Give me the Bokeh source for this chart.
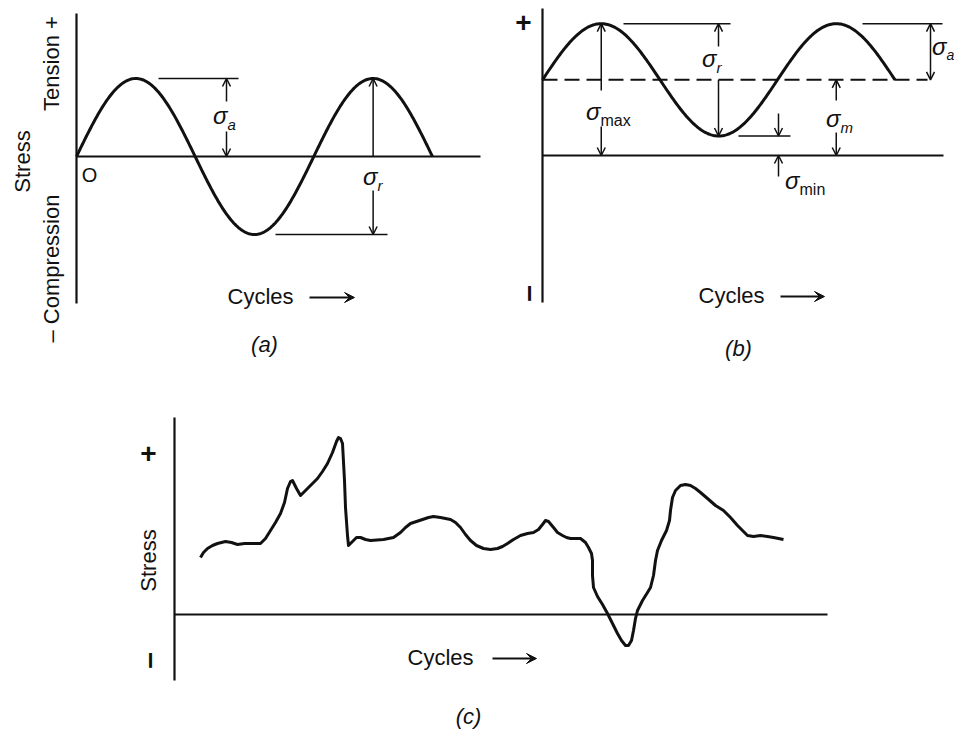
import math
import numpy as np
from bokeh.plotting import figure
from bokeh.models import Range1d, Label, Arrow, OpenHead, VeeHead
from bokeh.layouts import column, row
from bokeh.embed import file_html
from bokeh.resources import INLINE

# ---------------- data ----------------
# (a) completely reversed cycle: mean 0, amplitude sigma_a
A_MEAN = 0.0
A_AMPLITUDE = 1.0
A_CYCLES = 1.5
# (b) repeated stress cycle with tensile mean stress
B_MEAN = 0.97
B_AMPLITUDE = 0.72
B_CYCLES = 1.5
# (c) irregular / random stress cycle (cycles, stress)
C_CYCLES = [2.6, 2.9, 3.3, 3.8, 4.3, 5.1, 5.7, 6.3, 7.0, 7.6,
            8.6, 9.1, 9.6, 10.1, 10.6, 11.0, 11.3, 11.6, 11.8, 12.2,
            12.6, 13.1, 13.6, 14.3, 14.8, 15.3, 15.8, 16.2, 16.4, 16.6,
            16.8, 17.0, 17.1, 17.3, 17.4, 17.8, 18.2, 18.6, 19.1, 19.6,
            20.9, 21.9, 22.6, 23.1, 23.6, 24.2, 24.8, 25.4, 25.9, 26.6,
            27.6, 28.1, 28.6, 29.1, 29.6, 30.2, 30.9, 31.6, 32.3, 32.8,
            33.3, 33.9, 34.6, 35.3, 35.9, 36.4, 36.8, 37.1, 37.4, 37.9,
            38.3, 38.8, 39.2, 39.6, 40.6, 41.1, 41.4, 41.7, 41.8, 41.8,
            41.9, 42.3, 42.8, 43.3, 43.8, 44.3, 44.7, 45.1, 45.4, 45.7,
            45.9, 46.1, 46.3, 46.8, 47.3, 47.6, 47.9, 48.1, 48.3, 48.7,
            49.2, 49.5, 49.6, 49.8, 50.1, 50.6, 51.1, 51.6, 52.1, 52.6,
            53.3, 54.1, 54.9, 55.6, 56.3, 56.8, 57.3, 57.9, 58.6, 59.3,
            59.9, 60.4, 60.9]
C_STRESS = [5.7, 6.2, 6.6, 6.9, 7.1, 7.3, 7.2, 7.0, 7.1, 7.1,
            7.1, 7.6, 8.4, 9.2, 10.1, 11.2, 12.6, 13.3, 13.4, 12.6,
            11.9, 12.4, 12.9, 13.6, 14.3, 15.1, 16.2, 17.3, 17.7, 17.6,
            17.1, 13.4, 10.7, 7.9, 6.9, 7.3, 7.7, 7.7, 7.5, 7.4,
            7.5, 7.7, 8.2, 8.7, 9.1, 9.3, 9.5, 9.7, 9.8, 9.7,
            9.5, 9.2, 8.7, 8.0, 7.4, 6.9, 6.6, 6.5, 6.6, 6.8,
            7.1, 7.5, 7.9, 8.1, 8.2, 8.5, 9.0, 9.4, 9.3, 8.7,
            8.2, 7.9, 7.7, 7.6, 7.6, 7.2, 6.7, 6.1, 5.4, 3.9,
            2.7, 1.8, 1.0, 0.1, -0.9, -1.9, -2.6, -3.1, -3.1, -2.6,
            -1.6, -0.4, 0.4, 1.4, 2.2, 2.7, 3.9, 5.4, 6.4, 7.4,
            8.4, 9.4, 10.4, 11.7, 12.4, 12.9, 13.0, 12.9, 12.6, 12.2,
            11.6, 10.9, 10.4, 9.7, 8.9, 8.4, 7.9, 7.8, 7.9, 7.8,
            7.7, 7.6, 7.5]

FONT = "Liberation Sans"
INK = "#111111"


def make_fig(w, h, xr, yr):
    p = figure(width=w, height=h, x_range=Range1d(*xr), y_range=Range1d(*yr),
               output_backend="svg", toolbar_location=None, min_border=0,
               x_axis_location=None, y_axis_location=None)
    p.grid.visible = False
    p.outline_line_color = None
    p.background_fill_color = "white"
    return p


def label(p, x, y, text, size=22, angle=0.0, style="normal", align="center",
          baseline="middle"):
    p.add_layout(Label(x=x, y=y, text=text, text_font_size=f"{size}px", angle=angle,
                       text_font_style=style, text_align=align, text_baseline=baseline,
                       text_font=FONT, text_color=INK))


def arrow(p, x0, y0, x1, y1, lw=1.5, size=8):
    p.add_layout(Arrow(end=OpenHead(size=size, line_width=lw, line_color=INK),
                       x_start=x0, y_start=y0, x_end=x1, y_end=y1,
                       line_width=lw, line_color=INK))


def dbl_arrow(p, x0, y0, x1, y1, lw=1.5, size=8):
    p.add_layout(Arrow(start=OpenHead(size=size, line_width=lw, line_color=INK),
                       end=OpenHead(size=size, line_width=lw, line_color=INK),
                       x_start=x0, y_start=y0, x_end=x1, y_end=y1,
                       line_width=lw, line_color=INK))


def cycles_arrow(p, x0, x1, y):
    p.add_layout(Arrow(end=VeeHead(size=10, fill_color=INK, line_color=INK, line_width=1),
                       x_start=x0, y_start=y, x_end=x1, y_end=y,
                       line_width=2, line_color=INK))


def sigma(p, x, y, sub, sub_style="italic", sub_size=15):
    label(p, x, y, "σ", size=24, style="italic", align="right")
    label(p, x, y, sub, size=sub_size, style=sub_style, align="left", baseline="top")


def seg(p, x0, y0, x1, y1, lw=1.5, dash="solid"):
    p.line([x0, x1], [y0, y1], line_width=lw, line_color=INK, line_dash=dash)


def minus_bar(p, x, y):
    label(p, x, y, "–", size=30, angle=math.pi / 2, style="bold")


def plus(p, x, y):
    label(p, x, y, "+", size=28, style="bold")


# =============== panel (a) ===============
AX0, AY0, ASX, ASY = 76.0, 156.0, 237.3, 78.0
ax = lambda px: (px - AX0) / ASX
ay = lambda py: (AY0 - py) / ASY
fa = make_fig(490, 370, (ax(0), ax(490)), (ay(370), ay(0)))

t = np.linspace(0, A_CYCLES, 300)
fa.line(t, A_MEAN + A_AMPLITUDE * np.sin(2 * np.pi * t), line_width=3,
        line_color=INK, line_join="round")
seg(fa, 0, ay(13), 0, ay(303), lw=2.2)                 # stress axis
seg(fa, 0, A_MEAN, ax(480), A_MEAN, lw=2)               # zero line
a_max = A_MEAN + A_AMPLITUDE
a_min = A_MEAN - A_AMPLITUDE
seg(fa, ax(158), a_max, ax(238), a_max)
seg(fa, ax(275), a_min, ax(387), a_min)
# sigma_a
xa = ax(226)
arrow(fa, xa, ay(101), xa, a_max)
arrow(fa, xa, ay(131), xa, A_MEAN)
sigma(fa, ax(227), ay(115), "a")
# sigma_r
xr_ = 1.25
arrow(fa, xr_, A_MEAN, xr_, a_max)
arrow(fa, xr_, ay(190), xr_, a_min)
sigma(fa, ax(377), ay(176), "r")
label(fa, ax(89), ay(174), "O", size=20)
label(fa, ax(22), ay(161), "Stress", angle=math.pi / 2)
label(fa, ax(51), ay(63), "Tension +", angle=math.pi / 2)
label(fa, ax(51), ay(268), "– Compression", angle=math.pi / 2)
label(fa, ax(227), ay(296), "Cycles", align="left")
cycles_arrow(fa, ax(309), ax(354), ay(297))
label(fa, ax(264), ay(344), "(a)", style="italic")

# =============== panel (b) ===============
BX0, BY0, BSX, BSY = 542.0, 155.0, 235.0, 78.0
bx = lambda px: (px - BX0) / BSX
by = lambda py: (BY0 - py) / BSY
fb = make_fig(468, 370, (bx(490), bx(958)), (by(370), by(0)))

t = np.linspace(0, B_CYCLES, 300)
fb.line(t, B_MEAN + B_AMPLITUDE * np.sin(2 * np.pi * t), line_width=3,
        line_color=INK, line_join="round")
seg(fb, 0, by(8), 0, by(302), lw=2.2)
seg(fb, 0, 0, bx(943), 0, lw=2)
seg(fb, 0, B_MEAN, bx(927), B_MEAN, lw=2, dash="15 7")
b_max = B_MEAN + B_AMPLITUDE
b_min = B_MEAN - B_AMPLITUDE
seg(fb, bx(623), b_max, bx(730), b_max)
seg(fb, bx(862), b_max, bx(942), b_max)
seg(fb, bx(738), b_min, bx(790), b_min)
# sigma_max at first peak
xm = 0.25
arrow(fb, xm, by(90), xm, b_max)
arrow(fb, xm, by(126), xm, 0)
sigma(fb, bx(600), by(111), "max", sub_style="normal", sub_size=16)
# sigma_r
xr2 = bx(718)
arrow(fb, xr2, by(46), xr2, b_max)
arrow(fb, xr2, B_MEAN, xr2, b_min)
sigma(fb, bx(716), by(58), "r")
# sigma_min
xn = bx(778)
arrow(fb, xn, by(113), xn, b_min)
arrow(fb, xn, by(176), xn, 0)
sigma(fb, bx(799), by(180), "min", sub_style="normal", sub_size=16)
# sigma_m
xmm = 1.25
arrow(fb, xmm, by(100), xmm, B_MEAN)
arrow(fb, xmm, by(132), xmm, 0)
sigma(fb, bx(840), by(118), "m")
# sigma_a
xaa = bx(930)
dbl_arrow(fb, xaa, b_max, xaa, B_MEAN)
sigma(fb, bx(946), by(46), "a", sub_size=14)
plus(fb, bx(523), by(22))
minus_bar(fb, bx(527), by(293))
label(fb, bx(698), by(295), "Cycles", align="left")
cycles_arrow(fb, bx(780), bx(824), by(296))
label(fb, bx(738), by(348), "(b)", style="italic")

# =============== panel (c) ===============
CX0, CY0, CSX, CSY = 174.0, 614.0, 10.0, 10.0
cx = lambda px: (px - CX0) / CSX
cy = lambda py: (CY0 - py) / CSY
fc = make_fig(958, 360, (cx(0), cx(958)), (cy(730), cy(370)))

fc.line(C_CYCLES, C_STRESS, line_width=3, line_color=INK, line_join="round")
seg(fc, 0, cy(417), 0, cy(680), lw=2.2)
seg(fc, 0, 0, cx(827), 0, lw=2)
plus(fc, cx(148), cy(453))
label(fc, cx(148), cy(560), "Stress", angle=math.pi / 2)
minus_bar(fc, cx(148), cy(660))
label(fc, cx(407), cy(657), "Cycles", align="left")
cycles_arrow(fc, cx(492), cx(536), cy(658))
label(fc, cx(468), cy(716), "(c)", style="italic")

layout = column(row(fa, fb), fc)
open("out.html", "w").write(file_html(layout, INLINE))
